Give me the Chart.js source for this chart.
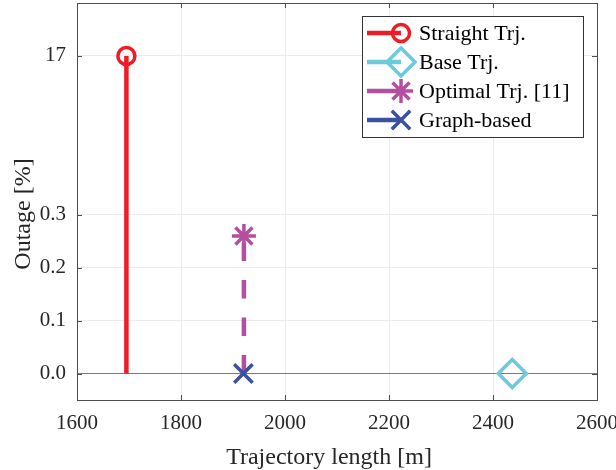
<!DOCTYPE html>
<html lang="en">
<head>
    <meta charset="UTF-8">
    <title>Outage vs trajectory length</title>
    <script src="https://cdn.jsdelivr.net/npm/chart.js"></script>
    <style>
        body { margin: 0; background: #fff; }
        #wrap { width: 616px; height: 470px; }
    </style>
</head>
<body>
    <div id="wrap"><canvas id="outageChart" width="616" height="470"></canvas></div>
    <script>
        // data
        const seriesNames = ['Straight Trj.', 'Base Trj.', 'Optimal Trj. [11]', 'Graph-based'];
        const trajLength = [1695, 2437, 1921, 1920];   // m
        const outage = [17, 0, 0.26, 0];               // %
        const xTicks = [1600, 1800, 2000, 2200, 2400, 2600];
        const yTickValues = [0, 0.1, 0.2, 0.3, 17];
        const yTickLabels = ['0.0', '0.1', '0.2', '0.3', '17'];

        // styles
        const seriesColors = ['#ee1c25', '#6ccadb', '#b34ea0', '#3a50a2'];
        const markerStyle = ['circle', 'rectRot', 'star', 'crossRot'];
        const markerSize = [8.5, 14, 12, 13];
        const stemDash = [[], [], [18.5, 19], []];
        const FONT = "'Liberation Serif', 'Times New Roman', serif";

        // y axis is broken above 0.3: the 17 % value is squeezed onto position 0.6
        const breakVal = 0.3, breakTop = 17, breakPos = 0.6;
        const yPos = v => v <= breakVal ? v : breakVal + (v - breakVal) / (breakTop - breakVal) * (breakPos - breakVal);

        const datasets = seriesNames.map((name, i) => ({
            label: name,
            data: [{ x: trajLength[i], y: 0 }, { x: trajLength[i], y: yPos(outage[i]) }],
            borderColor: seriesColors[i],
            borderWidth: 4.5,
            borderDash: stemDash[i],
            pointStyle: markerStyle[i],
            pointRadius: [0, markerSize[i]],
            pointBorderWidth: 3.5,
            pointBorderColor: seriesColors[i],
            pointBackgroundColor: 'rgba(0,0,0,0)',
            tension: 0,
            order: seriesNames.length - i
        }));

        // no extra room for labels that stick out past the plot box
        const noOverhang = s => { s.paddingTop = 0; s.paddingBottom = 0; s.paddingLeft = 0; s.paddingRight = 0; };

        // box with inward ticks, axis titles and legend drawn like the original figure
        const matlabAxes = {
            id: 'matlabAxes',
            afterDatasetsDraw(chart) {
                const { ctx, chartArea: a, scales } = chart;
                ctx.save();
                ctx.strokeStyle = '#4d4d4d';
                ctx.lineWidth = 1;
                ctx.beginPath();
                xTicks.forEach(v => {
                    const px = Math.round(scales.x.getPixelForValue(v)) + 0.5;
                    ctx.moveTo(px, a.bottom); ctx.lineTo(px, a.bottom - 5);
                    ctx.moveTo(px, a.top); ctx.lineTo(px, a.top + 5);
                });
                yTickValues.forEach(v => {
                    const py = Math.round(scales.y.getPixelForValue(yPos(v))) + 0.5;
                    ctx.moveTo(a.left, py); ctx.lineTo(a.left + 5, py);
                    ctx.moveTo(a.right, py); ctx.lineTo(a.right - 5, py);
                });
                ctx.stroke();
                ctx.strokeRect(Math.round(a.left) + 0.5, Math.round(a.top) + 0.5,
                    Math.round(a.right - a.left), Math.round(a.bottom - a.top));
                ctx.restore();
            },
            afterDraw(chart) {
                const { ctx } = chart;
                ctx.save();
                // axis titles
                ctx.fillStyle = '#262626';
                ctx.font = '24px ' + FONT;
                ctx.textAlign = 'center';
                ctx.textBaseline = 'alphabetic';
                ctx.fillText('Trajectory length [m]', 329, 464);
                ctx.translate(30, 214);
                ctx.rotate(-Math.PI / 2);
                ctx.fillText('Outage [%]', 0, 0);
                ctx.restore();

                // legend
                ctx.save();
                ctx.fillStyle = '#fff';
                ctx.fillRect(362, 16, 221, 121);
                ctx.strokeStyle = '#333';
                ctx.lineWidth = 1;
                ctx.strokeRect(362.5, 16.5, 221, 121);
                chart.data.datasets.forEach((ds, i) => {
                    const y = 33 + i * 29;
                    ctx.strokeStyle = ds.borderColor;
                    ctx.lineWidth = ds.borderWidth;
                    ctx.beginPath();
                    ctx.moveTo(367, y); ctx.lineTo(401, y);
                    ctx.stroke();
                    ctx.lineWidth = ds.pointBorderWidth;
                    ctx.fillStyle = 'rgba(0,0,0,0)';
                    Chart.helpers.drawPoint(ctx, {
                        pointStyle: ds.pointStyle, radius: markerSize[i], rotation: 0, borderWidth: ds.pointBorderWidth
                    }, 401, y);
                    ctx.fillStyle = '#000';
                    ctx.font = '22px ' + FONT;
                    ctx.textAlign = 'left';
                    ctx.textBaseline = 'middle';
                    ctx.fillText(ds.label, 419, y + 1);
                });
                ctx.restore();
            }
        };

        const ctx = document.getElementById('outageChart').getContext('2d');
        const chart = new Chart(ctx, {
            type: 'line',
            data: { datasets },
            options: {
                responsive: false,
                animation: false,
                layout: { autoPadding: false, padding: { top: 3, right: 19, left: 0, bottom: 0 } },
                plugins: { legend: { display: false }, tooltip: { enabled: false } },
                scales: {
                    x: {
                        type: 'linear',
                        min: 1600,
                        max: 2600,
                        afterBuildTicks: s => { s.ticks = xTicks.map(v => ({ value: v })); },
                        afterFit: s => { s.height = 70; noOverhang(s); },
                        border: { display: false },
                        grid: { color: '#ebebeb', drawTicks: false },
                        ticks: {
                            font: { family: FONT, size: 21 }, color: '#262626', padding: 11, maxRotation: 0,
                            callback: v => String(v)
                        }
                    },
                    y: {
                        type: 'linear',
                        min: -0.05,
                        max: 0.7,
                        afterBuildTicks: s => { s.ticks = yTickValues.map(v => ({ value: yPos(v) })); },
                        afterFit: s => { s.width = 77; noOverhang(s); },
                        border: { display: false },
                        grid: {
                            drawTicks: false,
                            color: c => (c.tick && c.tick.value === 0) ? '#7a7a7a' : '#ebebeb'
                        },
                        ticks: {
                            font: { family: FONT, size: 21 },
                            color: '#262626',
                            padding: 11,
                            callback: (val, i) => yTickLabels[i]
                        }
                    }
                }
            },
            plugins: [matlabAxes]
        });
    </script>
</body>
</html>
